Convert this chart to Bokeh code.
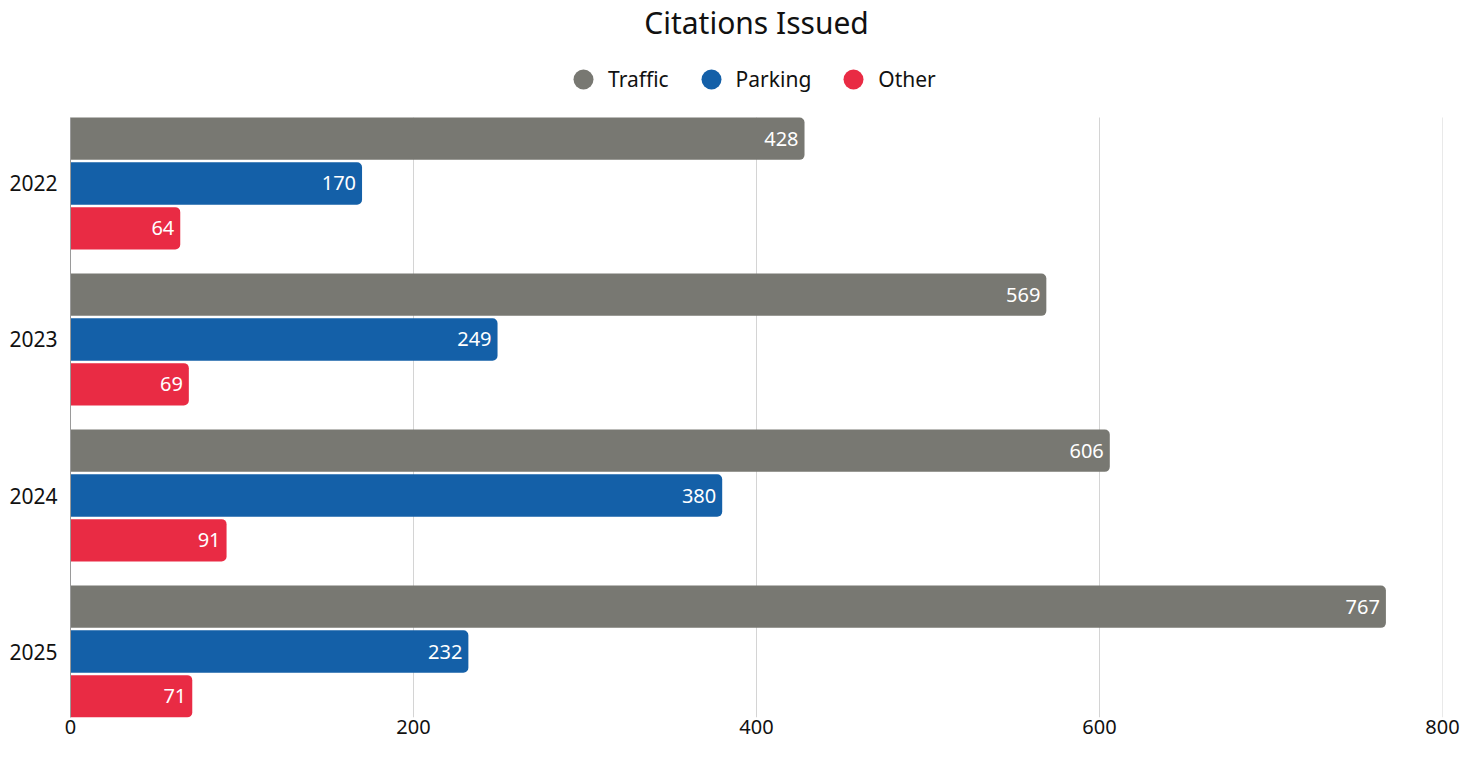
import numpy as np
from bokeh.plotting import figure
from bokeh.models import ColumnDataSource, LabelSet, Label, Legend, LegendItem, FixedTicker, Range1d
from bokeh.core.properties import value
from bokeh.embed import file_html
from bokeh.resources import INLINE

# ---- data ----
years = ["2022", "2023", "2024", "2025"]
series = ["Traffic", "Parking", "Other"]
traffic = [428, 569, 606, 767]
parking = [170, 249, 380, 232]
other = [64, 69, 91, 71]
x_ticks = [0, 200, 400, 600, 800]
title_text = "Citations Issued"

colors = ["#787872", "#1460A8", "#E92B44"]
FONT = "Noto Sans"

values = [traffic, parking, other]
offsets = [-0.287, 0.0, 0.287]
bar_h = 0.271

# ---- layout (pixels) ----
W, H = 1463, 743
B_LEFT, B_RIGHT, B_BOTTOM = 70, 21, 26
FRAME_W = W - B_LEFT - B_RIGHT
FRAME_H = H - B_BOTTOM          # frame starts at the top of the canvas
BAR_TOP_PX = 117                # header space (title + legend) inside the frame

y_lo, y_hi = -0.423, len(years) - 1 + 0.423
px_per_unit = (FRAME_H - BAR_TOP_PX) / (y_hi - y_lo)
y_top = y_lo - BAR_TOP_PX / px_per_unit

p = figure(width=W, height=H, output_backend="svg", toolbar_location=None, title=None,
           x_range=Range1d(0, 800), y_range=Range1d(y_hi, y_top),
           min_border_left=B_LEFT, min_border_right=B_RIGHT,
           min_border_bottom=B_BOTTOM, min_border_top=0)

# vertical grid lines limited to the bar area
gx = x_ticks[1:]
p.segment(x0=gx, x1=gx, y0=[y_lo] * len(gx), y1=[y_hi] * len(gx),
          line_color="#d4d4d4", line_width=1)

for vals, off, col in zip(values, offsets, colors):
    src = ColumnDataSource(dict(
        y=[i + off for i in range(len(years))],
        right=vals,
        label=[str(v) for v in vals],
    ))
    p.hbar(y="y", left=0, right="right", height=bar_h, source=src,
           fill_color=col, line_color=None, border_radius=(0, 5, 5, 0))
    p.add_layout(LabelSet(x="right", y="y", text="label", source=src,
                          x_offset=-6, text_align="right", text_baseline="middle",
                          text_color="white", text_font=value(FONT), text_font_size="20px"))

# title
p.add_layout(Label(x=FRAME_W / 2, y=FRAME_H - 1, x_units="screen", y_units="screen",
                   text=title_text, text_align="center", text_baseline="top",
                   text_font=FONT, text_font_size="30px", text_color="#111111"))

# legend (circle markers; NaN points are not drawn in the plot)
items = []
for name, col in zip(series, colors):
    r = p.scatter(x=np.array([np.nan]), y=np.array([np.nan]), marker="circle", size=20,
                  fill_color=col, line_color=None)
    items.append(LegendItem(label=name, renderers=[r]))
legend = Legend(items=items, orientation="horizontal",
                location=(488, FRAME_H - 104),
                glyph_width=50, glyph_height=50, label_standoff=0, spacing=17,
                padding=0, margin=0, border_line_color=None, background_fill_alpha=0,
                label_text_font=FONT, label_text_font_size="21px", label_text_color="#111111")
p.add_layout(legend, "center")

# axes
p.xaxis.ticker = FixedTicker(ticks=x_ticks)
p.xaxis.axis_line_color = None
p.xaxis.major_tick_line_color = None
p.xaxis.minor_tick_line_color = None
p.xaxis.major_tick_out = 0
p.xaxis.major_label_standoff = 2
p.xaxis.major_label_text_font = FONT
p.xaxis.major_label_text_font_size = "20px"
p.xaxis.major_label_text_color = "#111111"

p.yaxis.ticker = FixedTicker(ticks=list(range(len(years))))
p.yaxis.major_label_overrides = {i: y for i, y in enumerate(years)}
p.yaxis.bounds = (y_lo, y_hi)
p.yaxis.axis_line_color = "#9a9a9a"
p.yaxis.major_tick_line_color = None
p.yaxis.minor_tick_line_color = None
p.yaxis.major_tick_out = 0
p.yaxis.major_label_standoff = 13
p.yaxis.major_label_text_font = FONT
p.yaxis.major_label_text_font_size = "21px"
p.yaxis.major_label_text_color = "#111111"

p.xgrid.grid_line_color = None
p.ygrid.grid_line_color = None
p.outline_line_color = None

open("out.html", "w").write(file_html(p, INLINE))
